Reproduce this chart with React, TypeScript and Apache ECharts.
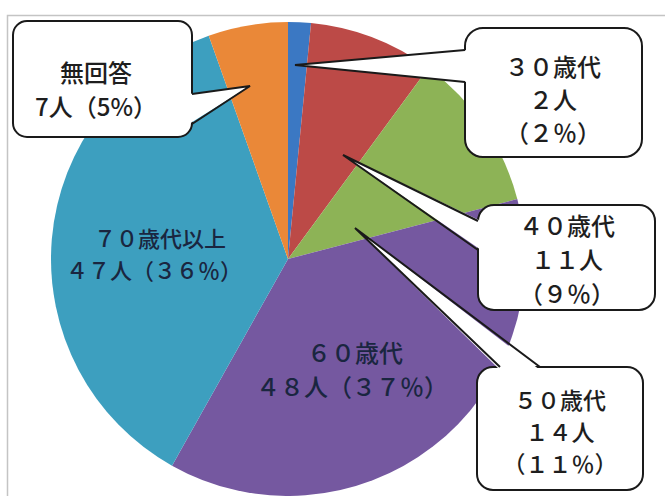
import React, { useEffect, useRef } from "react";
import * as echarts from "echarts";

const categories = ["30歳代", "40歳代", "50歳代", "60歳代", "70歳代以上", "無回答"];
const counts = [2, 11, 14, 48, 47, 7];
const percents = [2, 9, 11, 37, 36, 5];
const colors = ["#3B78C3", "#BC4A47", "#8DB356", "#7558A0", "#3D9FBF", "#EA8838"];

const fw = (s: string) => s.replace(/[0-9%]/g, (c) => String.fromCharCode(c.charCodeAt(0) + 0xfee0));

const FONT = '"Noto Sans CJK JP", "Noto Sans", sans-serif';

type Callout = {
  idx: number;
  box: [number, number, number, number, number];
  tip: [number, number];
  base: [[number, number], [number, number]];
  inward: [number, number];
  lines: { y: number }[];
  cx: number;
  fontSize: number;
  full: boolean;
  split3: boolean;
};

const callouts: Callout[] = [
  { idx: 5, box: [13, 21, 179, 116, 14], tip: [250, 86], base: [[192, 94], [192, 124]], inward: [-3, 0], lines: [{ y: 71 }, { y: 105 }], cx: 96, fontSize: 24, full: false, split3: false },
  { idx: 0, box: [465, 28, 177, 129, 18], tip: [295, 65], base: [[465, 50], [465, 82]], inward: [3, 0], lines: [{ y: 65 }, { y: 98 }, { y: 131 }], cx: 553, fontSize: 24, full: true, split3: true },
  { idx: 1, box: [478, 205, 177, 105, 16], tip: [343, 155], base: [[478, 221], [478, 250]], inward: [3, 0], lines: [{ y: 224 }, { y: 258 }, { y: 292 }], cx: 567, fontSize: 24, full: true, split3: true },
  { idx: 2, box: [477, 367, 166, 123, 16], tip: [355, 228], base: [[500, 367], [540, 367]], inward: [0, 3], lines: [{ y: 399 }, { y: 431 }, { y: 463 }], cx: 560, fontSize: 23, full: true, split3: true },
];

const inside = [
  { idx: 4, cx: [160, 154], ys: [237, 269], fontSize: 22 },
  { idx: 3, cx: [355, 352], ys: [351, 385], fontSize: 24 },
];

function textLines(i: number, full: boolean, split3: boolean): string[] {
  const f = (s: string) => (full ? fw(s) : s);
  const name = full ? fw(categories[i]) : categories[i];
  const cnt = f(String(counts[i])) + "人";
  const pct = "（" + f(percents[i] + "%") + "）";
  return split3 ? [name, cnt, pct] : [name, cnt + pct];
}

export default function App() {
  const ref = useRef<HTMLDivElement>(null);
  useEffect(() => {
    if (!ref.current) return;
    const chart = echarts.init(ref.current, undefined, { renderer: "svg" });
    const graphics: any[] = [];
    graphics.push({
      type: "rect",
      z: 1,
      shape: { x: 7.5, y: 15.5, width: 700, height: 600 },
      style: { fill: "none", stroke: "#c4c4c4", lineWidth: 1.5 },
    });
    for (const c of callouts) {
      const [x, y, w, h, r] = c.box;
      graphics.push({
        type: "rect",
        z: 10,
        shape: { x, y, width: w, height: h, r },
        style: { fill: "#fff", stroke: "#1a1a1a", lineWidth: 2 },
      });
      const b1 = c.base[0];
      const b2 = c.base[1];
      graphics.push({
        type: "polygon",
        z: 11,
        shape: {
          points: [c.tip, [b1[0] + c.inward[0], b1[1] + c.inward[1]], [b2[0] + c.inward[0], b2[1] + c.inward[1]]],
        },
        style: { fill: "#fff" },
      });
      graphics.push({
        type: "polyline",
        z: 12,
        shape: { points: [b1, c.tip, b2] },
        style: { fill: "none", stroke: "#1a1a1a", lineWidth: 2 },
      });
      const lines = textLines(c.idx, c.full, c.split3);
      lines.forEach((t, k) => {
        graphics.push({
          type: "text",
          z: 13,
          style: {
            text: t,
            x: c.cx,
            y: c.lines[k].y,
            fill: "#1e1e1e",
            font: `500 ${c.fontSize}px ${FONT}`,
            lineHeight: c.fontSize,
            align: "center",
            verticalAlign: "middle",
            textAlign: "center",
            textVerticalAlign: "middle",
          },
        });
      });
    }
    for (const l of inside) {
      const lines = textLines(l.idx, true, false);
      lines.forEach((t, k) => {
        graphics.push({
          type: "text",
          z: 13,
          style: {
            text: t,
            x: l.cx[k],
            y: l.ys[k],
            fill: "#1a2640",
            font: `500 ${l.fontSize}px ${FONT}`,
            lineHeight: l.fontSize,
            align: "center",
            verticalAlign: "middle",
            textAlign: "center",
            textVerticalAlign: "middle",
          },
        });
      });
    }
    chart.setOption({
      animation: false,
      backgroundColor: "#fff",
      series: [
        {
          type: "pie",
          center: [288, 259],
          radius: 237,
          startAngle: 90,
          clockwise: true,
          label: { show: false },
          labelLine: { show: false },
          emphasis: { disabled: true },
          itemStyle: { borderWidth: 0 },
          data: categories.map((name, i) => ({ name, value: counts[i], itemStyle: { color: colors[i] } })),
        },
      ],
      graphic: { elements: graphics },
    });
    return () => chart.dispose();
  }, []);
  return <div ref={ref} style={{ position: "fixed", left: 0, top: 0, width: 665, height: 496 }} />;
}
